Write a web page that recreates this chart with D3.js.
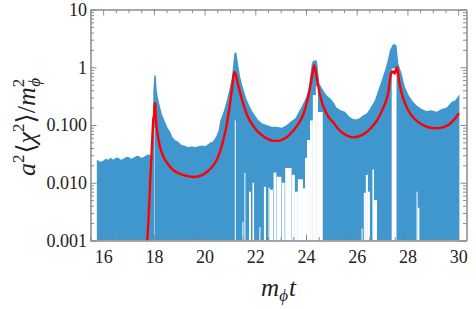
<!DOCTYPE html>
<html>
<head>
<meta charset="utf-8">
<script src="https://cdn.jsdelivr.net/npm/d3@7"></script>
<style>
  body { margin: 0; background: #fff; }
  svg { display: block; }
  .tick text { font-family: "Liberation Serif", "DejaVu Serif", serif; font-size: 18px; fill: #222; }
  .lbl { font-family: "Liberation Serif", "DejaVu Serif", serif; fill: #222; }
</style>
</head>
<body>
<div id="chart"></div>
<script>
// upper envelope of the oscillating <chi^2> (blue)
var tUpper = [15.75, 15.9, 16.0, 16.1, 16.2, 16.3, 16.4, 16.5, 16.6, 16.7, 16.8, 16.9, 17.0, 17.1,
  17.2, 17.3, 17.4, 17.5, 17.6, 17.7, 17.8, 17.9, 17.95,
  17.98, 18.02, 18.08, 18.11, 18.17, 18.24, 18.32, 18.44, 18.54, 18.64, 18.73, 18.83, 18.95,
  19.09, 19.2, 19.36, 19.5, 19.62, 19.75, 19.9, 20.02, 20.15, 20.22, 20.33, 20.47, 20.55, 20.62,
  20.75, 20.88, 20.98, 21.08, 21.17, 21.25, 21.34, 21.4, 21.47, 21.57, 21.67, 21.8, 21.93, 22.1,
  22.26, 22.45, 22.65, 22.85, 23.05, 23.24, 23.4, 23.57, 23.75, 23.90, 24.0, 24.09, 24.23, 24.28,
  24.42, 24.45, 24.53, 24.6, 24.68, 24.8, 24.95, 25.08, 25.2, 25.37, 25.54, 25.7, 25.82, 25.93,
  26.1, 26.26, 26.4, 26.55, 26.72, 26.85, 26.98, 27.12, 27.22, 27.31, 27.44, 27.57, 27.64, 27.77,
  27.90, 28.03, 28.17, 28.35, 28.56, 28.75, 28.95, 29.15, 29.35, 29.55, 29.74, 29.9, 30.03, 30.05];
var vUpper = [0.025, 0.023, 0.024, 0.026, 0.025, 0.027, 0.025, 0.027, 0.027, 0.025, 0.026, 0.028, 0.028, 0.026,
  0.027, 0.029, 0.029, 0.027, 0.028, 0.030, 0.031, 0.029, 0.033,
  0.4, 0.74, 0.70, 0.40, 0.28, 0.21, 0.15, 0.114, 0.09, 0.077, 0.062, 0.055, 0.052,
  0.045, 0.044, 0.041, 0.043, 0.041, 0.043, 0.044, 0.043, 0.047, 0.05, 0.052, 0.065, 0.08, 0.12,
  0.17, 0.27, 0.42, 0.68, 1.72, 1.84, 1.0, 0.7, 0.52, 0.36, 0.27, 0.2, 0.16, 0.125,
  0.107, 0.1, 0.093, 0.093, 0.09, 0.10, 0.115, 0.13, 0.18, 0.24, 0.3, 0.40, 1.16, 1.3,
  1.32, 1.1, 0.52, 0.46, 0.40, 0.33, 0.29, 0.25, 0.2, 0.18, 0.17, 0.14, 0.13, 0.125,
  0.13, 0.148, 0.16, 0.2, 0.27, 0.4, 0.59, 0.9, 1.3, 1.96, 2.56, 2.4, 1.16, 0.78,
  0.46, 0.34, 0.27, 0.22, 0.19, 0.175, 0.18, 0.17, 0.19, 0.2, 0.25, 0.27, 0.33, 0.34];

// places where the oscillation minimum stays above the axis (white gaps)
var gapStart = [18.015, 21.19, 21.49, 21.57, 21.75, 21.89, 22.16, 22.34, 22.52, 22.58, 22.72, 22.84,
  23.05, 23.18, 23.44, 23.56, 23.68, 23.88, 23.96, 24.04, 24.16, 24.27, 24.39, 24.47,
  26.19, 26.28, 26.36, 26.44, 26.62, 26.68, 27.38, 28.36, 28.40];
var gapEnd = [18.035, 21.23, 21.53, 21.61, 21.83, 21.95, 22.20, 22.42, 22.57, 22.70, 22.83, 23.03,
  23.16, 23.43, 23.56, 23.68, 23.88, 23.96, 24.04, 24.16, 24.27, 24.39, 24.47, 24.66,
  26.23, 26.36, 26.44, 26.52, 26.68, 26.80, 27.57, 28.40, 28.47];
var gapTop = [0.09, 0.12, 0.0021, 0.0149, 0.007, 0.010, 0.0017, 0.0085, 0.0082, 0.0076, 0.015, 0.0127,
  0.010, 0.018, 0.0137, 0.007, 0.0115, 0.008, 0.027, 0.055, 0.12, 0.33, 0.47, 0.168,
  0.0016, 0.0067, 0.0137, 0.007, 0.017, 0.005, 0.95, 0.007, 0.0037];

// averaged curve (red)
var tRed = [17.70, 17.74, 17.80, 17.86, 17.93, 17.98, 18.01, 18.03, 18.05, 18.07, 18.10, 18.17,
  18.24, 18.4, 18.57, 18.75, 18.96, 19.25, 19.56, 19.85, 20.1, 20.3, 20.46, 20.6, 20.74, 20.87,
  20.98, 21.08, 21.17, 21.24, 21.32, 21.41, 21.54, 21.7, 21.93, 22.1, 22.32, 22.5, 22.72, 22.9,
  23.11, 23.3, 23.5, 23.7, 23.9, 24.05, 24.16, 24.25, 24.32, 24.37, 24.42, 24.49, 24.56, 24.65,
  24.75, 24.9, 25.08, 25.25, 25.41, 25.6, 25.87, 26.1, 26.33, 26.55, 26.79, 26.95, 27.11, 27.24,
  27.3, 27.35, 27.4, 27.44, 27.48, 27.51, 27.55, 27.59, 27.63, 27.67, 27.72, 27.77, 27.9, 28.03,
  28.2, 28.43, 28.7, 29.08, 29.35, 29.61, 29.85, 30.03];
var vRed = [0.0006, 0.001, 0.003, 0.012, 0.05, 0.13, 0.15, 0.24, 0.23, 0.15, 0.10, 0.06,
  0.042, 0.027, 0.0205, 0.0168, 0.0147, 0.0133, 0.0126, 0.0133, 0.0155, 0.019, 0.024, 0.034, 0.055, 0.1,
  0.2, 0.42, 0.83, 0.72, 0.5, 0.35, 0.22, 0.14, 0.094, 0.077, 0.064, 0.057, 0.053, 0.053,
  0.057, 0.065, 0.08, 0.105, 0.155, 0.26, 0.45, 0.75, 1.07, 0.9, 0.68, 0.45, 0.32, 0.23,
  0.18, 0.135, 0.11, 0.088, 0.075, 0.066, 0.061, 0.064, 0.072, 0.088, 0.118, 0.16, 0.23, 0.36,
  0.55, 0.78, 0.85, 0.8, 0.85, 0.78, 0.9, 1.0, 0.8, 0.58, 0.45, 0.36, 0.24, 0.18,
  0.14, 0.112, 0.096, 0.088, 0.09, 0.1, 0.125, 0.16];

var xMajor = [16, 18, 20, 22, 24, 26, 28, 30];
var yMajor = [0.001, 0.01, 0.1, 1, 10];
var yTickLabels = ["0.001", "0.010", "0.100", "1", "10"];

var _width = 476, _height = 309;
var margin = { top: 9.5, right: 9.5, bottom: 68.5, left: 90.5 };
var width = _width - margin.left - margin.right;
var height = _height - margin.top - margin.bottom;
var frameColor = "#8a8a8a";

var svg = d3.select("#chart").append("svg")
  .attr("width", _width)
  .attr("height", _height);

var g = svg.append("g")
  .attr("transform", "translate(" + margin.left + "," + margin.top + ")");

var x = d3.scaleLinear().domain([15.5, 30.33]).range([0, width]);
var y = d3.scaleLog().domain([0.001, 10]).range([height, 0]);

g.append("clipPath").attr("id", "plotclip")
  .append("rect").attr("width", width).attr("height", height);

var plot = g.append("g").attr("clip-path", "url(#plotclip)");

// blue band
var upper = tUpper.map(function(t, i) { return { t: t, v: vUpper[i] }; });
var area = d3.area()
  .x(function(d) { return x(d.t); })
  .y0(height)
  .y1(function(d) { return y(d.v); });

plot.append("path")
  .datum(upper)
  .attr("fill", "#3f97cd")
  .attr("d", area);

// gaps
var gaps = gapStart.map(function(s, i) { return { s: s, e: gapEnd[i], top: gapTop[i] }; });
plot.selectAll("rect.gap")
  .data(gaps)
  .enter().append("rect")
  .attr("class", "gap")
  .attr("x", function(d) { return x(d.s); })
  .attr("width", function(d) { return x(d.e) - x(d.s); })
  .attr("y", function(d) { return y(d.top); })
  .attr("height", function(d) { return height - y(d.top); })
  .attr("fill", "#fff");

// red curve
var red = tRed.map(function(t, i) { return { t: t, v: vRed[i] }; });
var redLine = d3.line()
  .x(function(d) { return x(d.t); })
  .y(function(d) { return y(d.v); })
  .curve(d3.curveMonotoneX);

plot.append("path")
  .datum(red)
  .attr("fill", "none")
  .attr("stroke", "#ff0000")
  .attr("stroke-width", 2.4)
  .attr("stroke-linejoin", "round")
  .attr("d", redLine);

// minor ticks
var xMinor = d3.range(15.5, 30.4, 0.5).filter(function(v) { return xMajor.indexOf(v) < 0; });
var yMinor = [];
[0.001, 0.01, 0.1, 1].forEach(function(p) {
  for (var k = 2; k <= 9; k++) yMinor.push(p * k);
});

function styleAxis(sel) {
  sel.select(".domain").attr("stroke", frameColor);
  sel.selectAll(".tick line").attr("stroke", frameColor);
}

// bottom
g.append("g").attr("transform", "translate(0," + height + ")")
  .call(d3.axisBottom(x).tickValues(xMinor).tickSize(-3.5).tickSizeOuter(0).tickFormat(""))
  .call(styleAxis);
g.append("g").attr("transform", "translate(0," + height + ")")
  .call(d3.axisBottom(x).tickValues(xMajor).tickSize(-6).tickSizeOuter(0).tickPadding(10)
    .tickFormat(d3.format("d")))
  .call(styleAxis);

// top
g.append("g")
  .call(d3.axisTop(x).tickValues(xMinor).tickSize(-3.5).tickSizeOuter(0).tickFormat(""))
  .call(styleAxis);
g.append("g")
  .call(d3.axisTop(x).tickValues(xMajor).tickSize(-6).tickSizeOuter(0).tickFormat(""))
  .call(styleAxis);

// left
g.append("g")
  .call(d3.axisLeft(y).tickValues(yMinor).tickSize(-3.5).tickSizeOuter(0).tickFormat(""))
  .call(styleAxis);
g.append("g")
  .call(d3.axisLeft(y).tickValues(yMajor).tickSize(-6).tickSizeOuter(0).tickPadding(3.5)
    .tickFormat(function(d, i) { return yTickLabels[i]; }))
  .call(styleAxis);

// right
g.append("g").attr("transform", "translate(" + width + ",0)")
  .call(d3.axisRight(y).tickValues(yMinor).tickSize(-3.5).tickSizeOuter(0).tickFormat(""))
  .call(styleAxis);
g.append("g").attr("transform", "translate(" + width + ",0)")
  .call(d3.axisRight(y).tickValues(yMajor).tickSize(-6).tickSizeOuter(0).tickFormat(""))
  .call(styleAxis);

svg.selectAll(".tick text").attr("font-family", null).attr("font-size", null);

// x label: m_phi t
var xl = svg.append("text").attr("class", "lbl")
  .attr("x", margin.left + width / 2)
  .attr("y", 296)
  .attr("text-anchor", "middle")
  .style("font-size", "25px");
xl.append("tspan").style("font-style", "italic").text("m");
xl.append("tspan").style("font-style", "italic").style("font-size", "17px").attr("dy", 5).text("\u03d5");
xl.append("tspan").style("font-style", "italic").attr("dy", -5).attr("dx", 1).text("t");

// y label: a^2 <chi^2> / m_phi^2
var yl = svg.append("text").attr("class", "lbl")
  .attr("transform", "translate(35," + (margin.top + height / 2 + 2) + ") rotate(-90)")
  .attr("text-anchor", "middle")
  .style("font-size", "26px");
yl.append("tspan").style("font-style", "italic").text("a");
yl.append("tspan").style("font-size", "17px").attr("dy", -11).text("2");
yl.append("tspan").attr("dy", 11).attr("dx", 1).text("\u27e8");
yl.append("tspan").style("font-style", "italic").text("\u03c7");
yl.append("tspan").style("font-size", "17px").attr("dy", -11).text("2");
yl.append("tspan").attr("dy", 11).text("\u27e9/");
yl.append("tspan").style("font-style", "italic").text("m");
yl.append("tspan").style("font-size", "17px").attr("dy", -11).text("2");
yl.append("tspan").style("font-style", "italic").style("font-size", "17px")
  .attr("dx", -8).attr("dy", 16).text("\u03d5");
</script>
</body>
</html>
